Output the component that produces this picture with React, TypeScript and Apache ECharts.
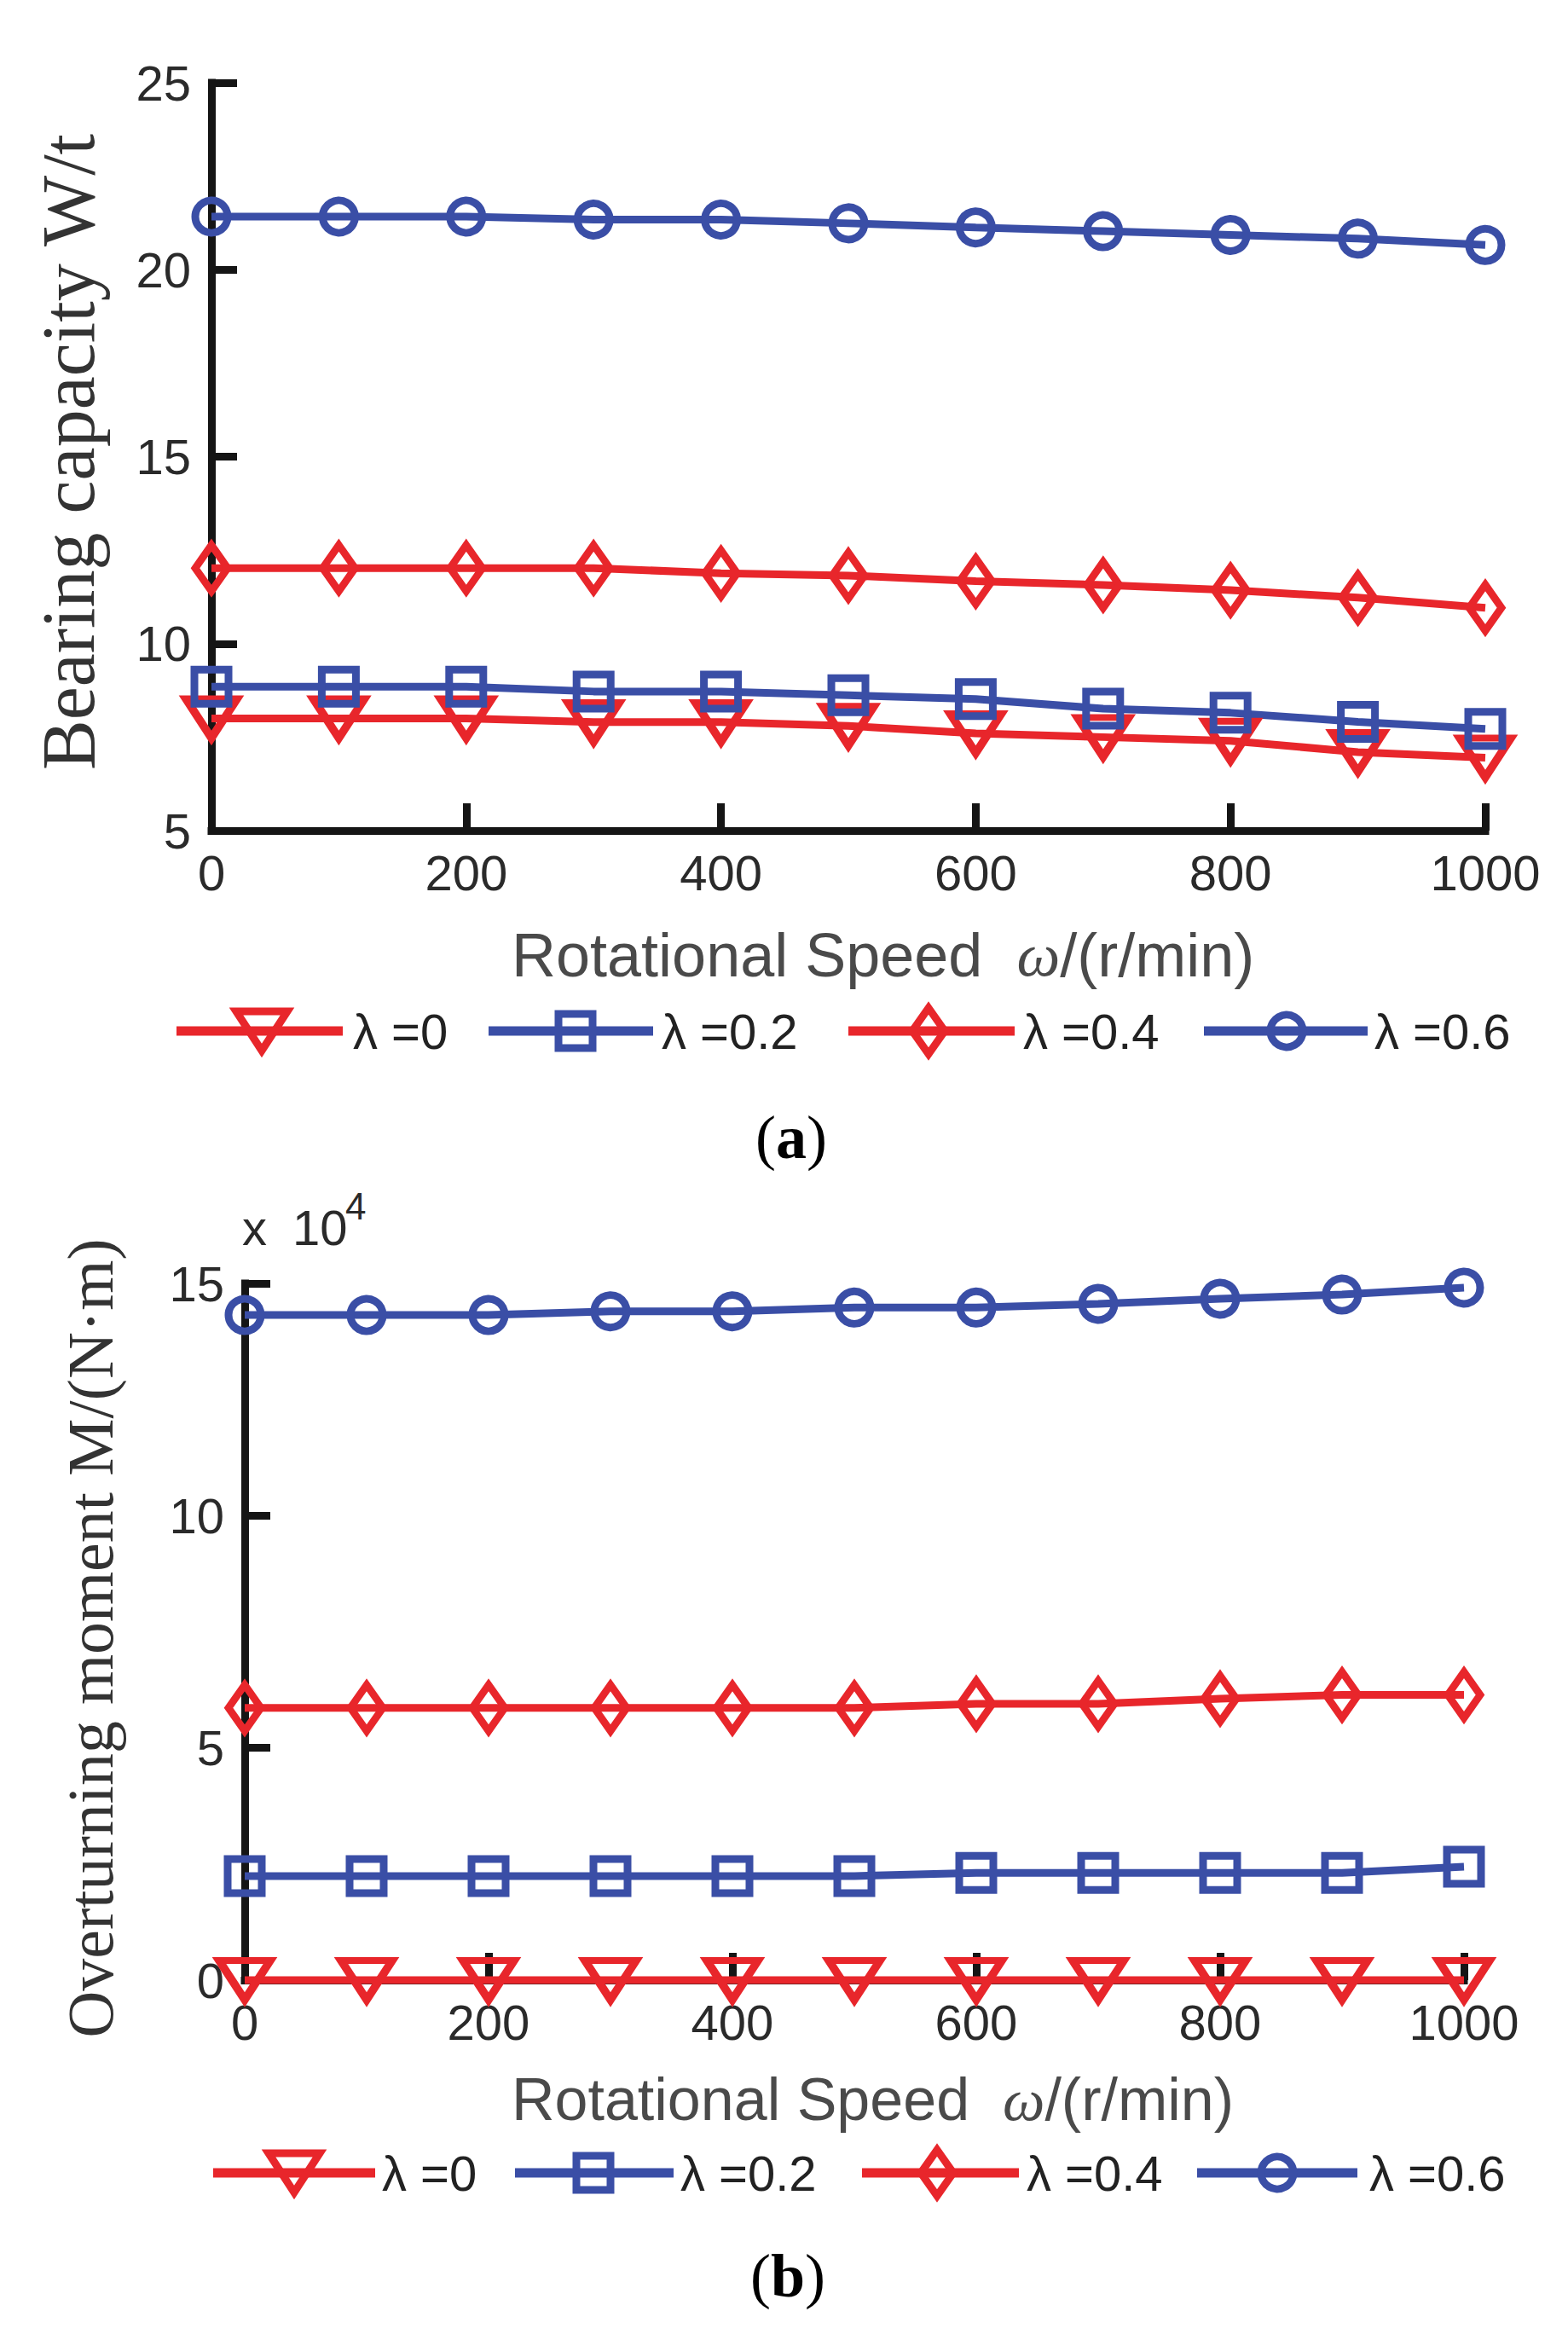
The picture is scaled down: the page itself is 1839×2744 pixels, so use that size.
import React, { useEffect, useRef } from "react";
import * as echarts from "echarts";

const SPEED = [0, 100, 200, 300, 400, 500, 600, 700, 800, 900, 1000];
const X_TICKS = [0, 200, 400, 600, 800, 1000];

// (a) Bearing capacity W/t
const W_L0 = [8.0, 8.0, 8.0, 7.9, 7.9, 7.8, 7.6, 7.5, 7.4, 7.1, 6.95];
const W_L02 = [8.85, 8.85, 8.85, 8.72, 8.72, 8.62, 8.52, 8.26, 8.15, 7.91, 7.72];
const W_L04 = [12.02, 12.02, 12.02, 12.02, 11.88, 11.82, 11.67, 11.57, 11.43, 11.23, 10.96];
const W_L06 = [21.42, 21.42, 21.42, 21.34, 21.34, 21.24, 21.13, 21.03, 20.93, 20.83, 20.66];

// (b) Overturning moment (x 10^4 N·m)
const M_L0 = [0, 0, 0, 0, 0, 0, 0, 0, 0, 0, 0];
const M_L02 = [2.24, 2.24, 2.24, 2.24, 2.24, 2.24, 2.31, 2.31, 2.31, 2.31, 2.44];
const M_L04 = [5.86, 5.86, 5.86, 5.86, 5.86, 5.86, 5.95, 5.95, 6.06, 6.14, 6.14];
const M_L06 = [14.32, 14.32, 14.32, 14.4, 14.4, 14.48, 14.48, 14.56, 14.67, 14.76, 14.91];

const LEGEND_LABELS = ["λ =0", "λ =0.2", "λ =0.4", "λ =0.6"];

const RED = "#e8262b";
const BLUE = "#3a4ea6";
const BLACK = "#151515";
const SANS = "'Liberation Sans', Arial, sans-serif";
const SERIF = "'Liberation Serif', 'Times New Roman', serif";
const LW = 9;

type Mk = "tri" | "sq" | "dia" | "cir";
const MARKERS: Mk[] = ["tri", "sq", "dia", "cir"];
const COLORS = [RED, BLUE, RED, BLUE];

function symbolFor(m: Mk): any {
  if (m === "tri") return { symbol: "triangle", symbolSize: [60, 46], symbolRotate: 180 };
  if (m === "sq") return { symbol: "rect", symbolSize: [40, 40] };
  if (m === "dia") return { symbol: "diamond", symbolSize: [38, 54] };
  return { symbol: "circle", symbolSize: 38 };
}

function makeSeries(values: number[], idx: number, axisIdx: number, name: string) {
  const color = COLORS[idx];
  return {
    type: "line",
    name,
    xAxisIndex: axisIdx,
    yAxisIndex: axisIdx,
    data: SPEED.map((s, i) => [s, values[i]]),
    ...symbolFor(MARKERS[idx]),
    showSymbol: true,
    clip: false,
    lineStyle: { color, width: LW },
    itemStyle: { color: "rgba(0,0,0,0)", borderColor: color, borderWidth: LW },
    emphasis: { disabled: true },
  };
}

function legendMarker(m: Mk, cx: number, cy: number, color: string): any {
  const style = { fill: "none", stroke: color, lineWidth: LW };
  if (m === "tri")
    return { type: "polygon", shape: { points: [[cx - 30, cy - 23], [cx + 30, cy - 23], [cx, cy + 23]] }, style };
  if (m === "sq") return { type: "rect", shape: { x: cx - 20, y: cy - 20, width: 40, height: 40 }, style };
  if (m === "dia")
    return { type: "polygon", shape: { points: [[cx, cy - 27], [cx + 19, cy], [cx, cy + 27], [cx - 19, cy]] }, style };
  return { type: "circle", shape: { cx, cy, r: 19 }, style };
}

function legendGroup(y: number, items: { x1: number; x2: number; mx: number; tx: number }[]): any[] {
  const out: any[] = [];
  items.forEach((it, i) => {
    out.push({
      type: "line",
      shape: { x1: it.x1, y1: y, x2: it.x2, y2: y },
      style: { stroke: COLORS[i], lineWidth: 11 },
    });
    out.push(legendMarker(MARKERS[i], it.mx, y, COLORS[i]));
    out.push({
      type: "text",
      x: it.tx,
      y,
      style: { text: LEGEND_LABELS[i], fontFamily: SANS, fontSize: 58, fill: "#222", align: "left", verticalAlign: "middle" },
    });
  });
  return out;
}

function xAxisCfg(gridIndex: number) {
  return {
    type: "value",
    gridIndex,
    min: X_TICKS[0],
    max: X_TICKS[X_TICKS.length - 1],
    interval: X_TICKS[1] - X_TICKS[0],
    axisLine: { show: true, onZero: false, lineStyle: { color: BLACK, width: LW, cap: "square" } },
    axisTick: { show: true, inside: true, length: 32, lineStyle: { color: BLACK, width: LW } },
    axisLabel: {
      show: true,
      fontFamily: SANS,
      fontSize: 58,
      color: "#2a2a2a",
      margin: 20,
      formatter: (v: number) => String(v),
    },
    splitLine: { show: false },
  };
}

function yAxisCfg(gridIndex: number, min: number, max: number) {
  return {
    type: "value",
    gridIndex,
    min,
    max,
    interval: 5,
    axisLine: { show: true, onZero: false, lineStyle: { color: BLACK, width: LW, cap: "square" } },
    axisTick: { show: true, inside: true, length: 30, lineStyle: { color: BLACK, width: LW } },
    axisLabel: {
      show: true,
      fontFamily: SANS,
      fontSize: 58,
      color: "#2a2a2a",
      margin: 24,
      padding: [0, 0, 14, 0],
      formatter: (v: number) => String(v),
    },
    splitLine: { show: false },
  };
}

export default function App() {
  const ref = useRef<HTMLDivElement>(null);

  useEffect(() => {
    if (!ref.current) return;
    const chart = echarts.init(ref.current, undefined, { renderer: "svg" });

    const graphics: any[] = [
      // (a) y title
      {
        type: "text",
        x: 80,
        y: 530,
        rotation: Math.PI / 2,
        style: { text: "Bearing capacity W/t", fontFamily: SERIF, fontSize: 88, fill: "#333", align: "center", verticalAlign: "middle" },
      },
      // (a) x title
      {
        type: "text",
        x: 600,
        y: 1120,
        style: {
          text: "Rotational Speed  {w|ω}/(r/min)",
          fontFamily: SANS,
          fontSize: 72,
          fill: "#4a4a4a",
          align: "left",
          verticalAlign: "middle",
          rich: { w: { fontFamily: SERIF, fontStyle: "italic", fontSize: 72, fill: "#4a4a4a" } },
        },
      },
      ...legendGroup(1209, [
        { x1: 207, x2: 402, mx: 307, tx: 414 },
        { x1: 573, x2: 766, mx: 675, tx: 776 },
        { x1: 995, x2: 1190, mx: 1089, tx: 1200 },
        { x1: 1412, x2: 1604, mx: 1509, tx: 1612 },
      ]),
      {
        type: "text",
        x: 928,
        y: 1334,
        style: {
          text: "({b|a})",
          fontFamily: SERIF,
          fontSize: 72,
          fill: "#000",
          align: "center",
          verticalAlign: "middle",
          rich: { b: { fontFamily: SERIF, fontSize: 72, fontWeight: "bold", fill: "#000" } },
        },
      },
      // (b) y title
      {
        type: "text",
        x: 106,
        y: 1921,
        rotation: Math.PI / 2,
        style: { text: "Overturning moment M/(N·m)", fontFamily: SERIF, fontSize: 76, fill: "#333", align: "center", verticalAlign: "middle" },
      },
      // x 10^4
      {
        type: "text",
        x: 284,
        y: 1468,
        style: { text: "x", fontFamily: SANS, fontSize: 58, fill: "#2a2a2a", align: "left", verticalAlign: "bottom" },
      },
      {
        type: "text",
        x: 343,
        y: 1468,
        style: { text: "10", fontFamily: SANS, fontSize: 58, fill: "#2a2a2a", align: "left", verticalAlign: "bottom" },
      },
      {
        type: "text",
        x: 405,
        y: 1436,
        style: { text: "4", fontFamily: SANS, fontSize: 44, fill: "#2a2a2a", align: "left", verticalAlign: "bottom" },
      },
      // (b) x title
      {
        type: "text",
        x: 600,
        y: 2462,
        style: {
          text: "Rotational Speed  {w|ω}/(r/min)",
          fontFamily: SANS,
          fontSize: 70,
          fill: "#4a4a4a",
          align: "left",
          verticalAlign: "middle",
          rich: { w: { fontFamily: SERIF, fontStyle: "italic", fontSize: 70, fill: "#4a4a4a" } },
        },
      },
      ...legendGroup(2548, [
        { x1: 250, x2: 440, mx: 345, tx: 448 },
        { x1: 604, x2: 790, mx: 696, tx: 798 },
        { x1: 1011, x2: 1195, mx: 1099, tx: 1204 },
        { x1: 1404, x2: 1592, mx: 1498, tx: 1606 },
      ]),
      {
        type: "text",
        x: 924,
        y: 2669,
        style: {
          text: "({b|b})",
          fontFamily: SERIF,
          fontSize: 72,
          fill: "#000",
          align: "center",
          verticalAlign: "middle",
          rich: { b: { fontFamily: SERIF, fontSize: 72, fontWeight: "bold", fill: "#000" } },
        },
      },
    ];

    chart.setOption({
      animation: false,
      backgroundColor: "#ffffff",
      grid: [
        { left: 248, top: 97, width: 1494, height: 877, containLabel: false },
        { left: 287, top: 1505, width: 1430, height: 817, containLabel: false },
      ],
      xAxis: [xAxisCfg(0), xAxisCfg(1)],
      yAxis: [yAxisCfg(0, 5, 25), yAxisCfg(1, 0, 15)],
      series: [
        makeSeries(W_L0, 0, 0, "a λ=0"),
        makeSeries(W_L02, 1, 0, "a λ=0.2"),
        makeSeries(W_L04, 2, 0, "a λ=0.4"),
        makeSeries(W_L06, 3, 0, "a λ=0.6"),
        makeSeries(M_L0, 0, 1, "b λ=0"),
        makeSeries(M_L02, 1, 1, "b λ=0.2"),
        makeSeries(M_L04, 2, 1, "b λ=0.4"),
        makeSeries(M_L06, 3, 1, "b λ=0.6"),
      ],
      graphic: graphics,
    });

    return () => {
      chart.dispose();
    };
  }, []);

  return (
    <div
      ref={ref}
      style={{ position: "absolute", left: 0, top: 0, width: 1839, height: 2744, background: "#fff" }}
    />
  );
}
